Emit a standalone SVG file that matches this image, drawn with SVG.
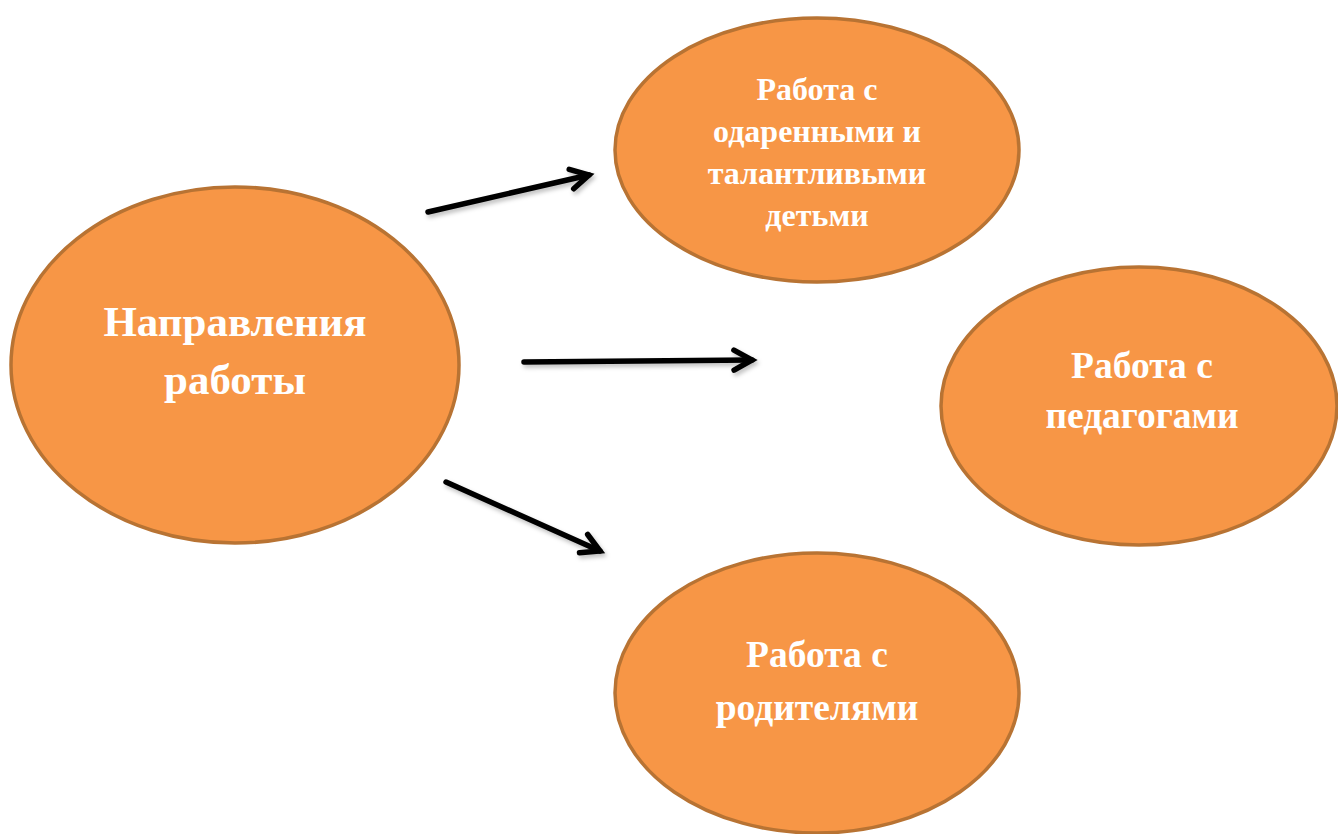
<svg xmlns="http://www.w3.org/2000/svg" width="1338" height="834" viewBox="0 0 1338 834">
  <style>
    .node ellipse { fill: #F79646; stroke: #B87333; stroke-width: 3.5; }
    .node text { fill: #FFFFFF; font-family: "Liberation Serif", "Times New Roman", serif; font-weight: bold; text-anchor: middle; }
    .conn { stroke: #000000; stroke-width: 5.5; fill: none; stroke-linecap: round; }
  </style>
  <defs>
    <marker id="arrow" markerUnits="userSpaceOnUse" markerWidth="40" markerHeight="40" viewBox="-30 -20 40 40" refX="0" refY="0" orient="auto">
      <path d="M -18 -10 L 0 0 L -18 10" fill="none" stroke="#000000" stroke-width="5.5" stroke-linecap="round" stroke-linejoin="miter"/>
    </marker>
    <filter id="shadow" x="-20%" y="-50%" width="140%" height="200%">
      <feDropShadow dx="2" dy="3" stdDeviation="2" flood-color="#000000" flood-opacity="0.25"/>
    </filter>
  </defs>

  <g id="node-main" class="node">
    <ellipse cx="235" cy="365" rx="224" ry="178"/>
    <text x="235" y="336" font-size="43">Направления</text>
    <text x="235" y="394" font-size="43">работы</text>
  </g>

  <g id="node-gifted" class="node">
    <ellipse cx="817" cy="150" rx="202" ry="132"/>
    <text x="817" y="100" font-size="32">Работа с</text>
    <text x="817" y="142" font-size="32">одаренными и</text>
    <text x="817" y="184" font-size="32">талантливыми</text>
    <text x="817" y="226" font-size="32">детьми</text>
  </g>

  <g id="node-teachers" class="node">
    <ellipse cx="1139" cy="406" rx="198" ry="139"/>
    <text x="1142" y="378" font-size="37.5">Работа с</text>
    <text x="1142" y="428" font-size="37.5">педагогами</text>
  </g>

  <g id="node-parents" class="node">
    <ellipse cx="817" cy="693" rx="202" ry="140"/>
    <text x="817" y="667" font-size="37.5">Работа с</text>
    <text x="817" y="720" font-size="37.5">родителями</text>
  </g>

  <g id="connectors" filter="url(#shadow)">
    <line class="conn" x1="428" y1="212" x2="589" y2="175" marker-end="url(#arrow)"/>
    <line class="conn" x1="524" y1="362" x2="752" y2="360" marker-end="url(#arrow)"/>
    <line class="conn" x1="446" y1="482" x2="600" y2="551" marker-end="url(#arrow)"/>
  </g>
</svg>
